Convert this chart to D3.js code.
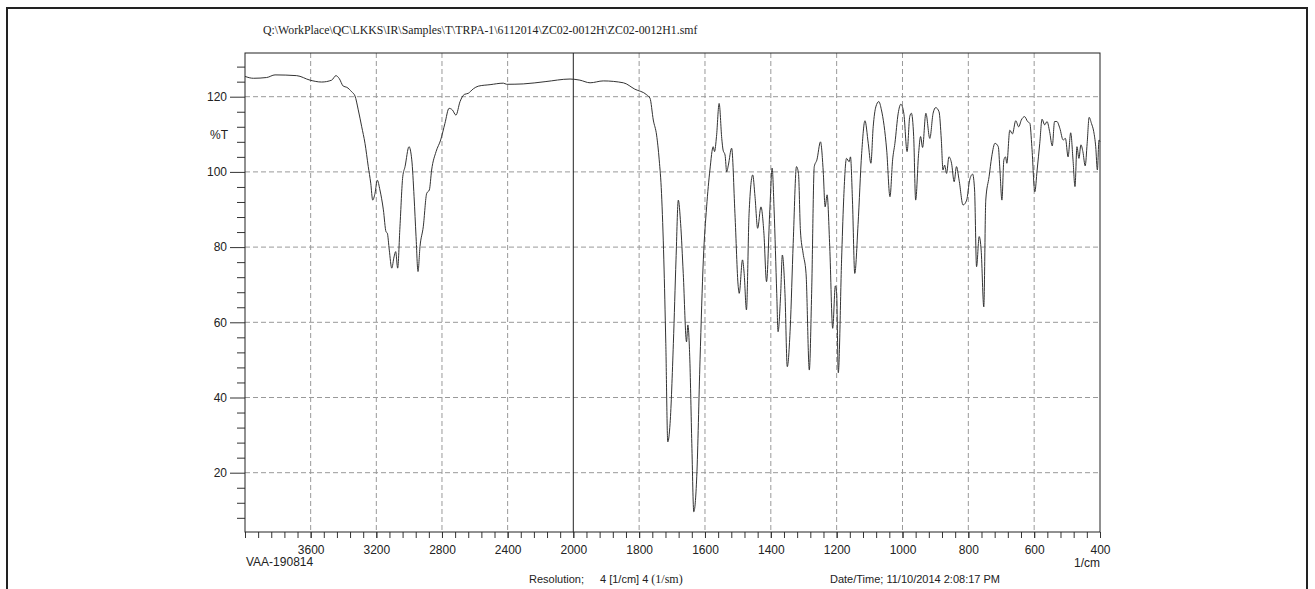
<!DOCTYPE html>
<html>
<head>
<meta charset="utf-8">
<script src="https://cdn.jsdelivr.net/npm/d3@7"></script>
<style>
  body { margin: 0; background: #fff; }
  svg { display: block; }
</style>
</head>
<body>
<div id="div_chart"></div>
<script>
// spectrum: wavenumber (1/cm) and %T
const wavenumber = [
  4000, 3949, 3868, 3817, 3685, 3604, 3533, 3472, 3446, 3427, 3401, 3380, 3350, 3330,
  3310, 3289, 3269, 3249, 3234, 3222, 3208, 3194, 3178, 3157, 3141, 3133, 3121, 3106,
  3092, 3082, 3070, 3056, 3039, 3025, 3001, 2984, 2970, 2958, 2946, 2934, 2914, 2893,
  2877, 2863, 2836, 2808, 2782, 2757, 2737, 2715, 2690, 2664, 2640, 2609, 2579, 2507,
  2426, 2406, 2305, 2172, 2020,
  1980, 1949, 1909, 1848, 1813, 1777, 1767, 1757, 1747, 1739, 1732, 1725, 1719, 1713,
  1706, 1696, 1688, 1681, 1674, 1666, 1656, 1652, 1646, 1640, 1634, 1625, 1615, 1605,
  1595, 1585, 1575, 1571, 1565, 1557, 1549, 1545, 1539, 1534, 1529, 1519, 1509, 1499,
  1496, 1486, 1481, 1474, 1466, 1455, 1448, 1440, 1430, 1421, 1413, 1403, 1396, 1390,
  1382, 1378, 1370, 1365, 1357, 1350, 1341, 1332, 1322, 1316, 1310, 1302, 1293, 1283,
  1276, 1268, 1260, 1249, 1241, 1235, 1229, 1221, 1212, 1204, 1200, 1195, 1185, 1179,
  1170, 1162, 1158, 1152, 1145, 1135, 1124, 1114, 1104, 1096, 1089, 1081, 1072, 1064,
  1048, 1038, 1030, 1023, 1013, 1005, 996, 986, 978, 973, 966, 960, 951, 945,
  939, 929, 917, 907, 899, 889, 882, 877, 872, 866, 859, 851, 843, 836,
  828, 816, 805, 796, 787, 781, 775, 767, 761, 753, 747, 737, 729, 719,
  709, 704, 698, 692, 687, 683, 674, 666, 656, 647, 639, 629, 620, 613,
  607, 598, 591, 583, 576, 568, 561, 553, 545, 538, 531, 522, 512, 505,
  497, 489, 482, 476, 470, 464, 458, 452, 445, 439, 433, 426, 419, 413,
  408, 403, 400
];
const transmittance = [
  125.4, 124.9, 125.1, 125.8, 125.6, 124.4, 123.9, 124.4, 125.6, 124.9, 122.8, 122.5, 121.3, 120.2,
  116.5, 112.0, 107.6, 101.4, 97.0, 92.5, 94.3, 97.8, 95.2, 89.9, 84.1, 83.7, 79.2, 74.4,
  77.4, 78.8, 74.4, 85.4, 98.7, 101.4, 106.7, 103.2, 93.4, 82.8, 73.5, 80.1, 85.4, 94.3,
  95.2, 100.5, 105.4, 108.5, 112.9, 116.9, 116.5, 115.1, 118.7, 120.6, 120.9, 122.1, 122.8, 123.2,
  123.6, 123.3, 123.4, 124.0, 124.7,
  124.4, 123.7, 124.2, 123.7, 122.0, 120.5, 119.6, 113.8, 109.8, 103.2, 94.3, 76.6, 54.4, 28.2,
  33.1, 54.4, 76.6, 92.5, 86.3, 73.0, 54.8, 59.3, 50.0, 27.8, 9.6, 18.9, 50.0, 76.6,
  90.7, 100.5, 106.7, 105.4, 109.4, 118.2, 108.9, 105.8, 104.5, 100.0, 101.8, 106.3, 89.0, 69.5,
  67.7, 76.6, 73.0, 63.3, 89.0, 99.2, 93.4, 85.0, 90.7, 83.7, 70.8, 89.9, 101.0, 89.9,
  67.7, 57.5, 67.7, 77.9, 67.7, 48.2, 58.5, 81.0, 101.4, 99.6, 84.3, 78.4, 73.0, 47.3,
  67.7, 101.4, 103.2, 108.0, 100.5, 90.7, 93.9, 80.1, 58.4, 69.7, 67.7, 46.6, 76.6, 92.0,
  103.6, 102.7, 104.0, 92.5, 73.0, 86.0, 104.9, 113.6, 107.6, 102.3, 112.0, 117.3, 118.7, 116.5,
  105.8, 93.4, 103.2, 107.6, 115.6, 118.0, 115.6, 105.4, 114.7, 115.6, 109.4, 92.5, 104.9, 109.4,
  106.5, 115.6, 108.9, 115.6, 117.1, 116.0, 108.5, 100.5, 101.8, 99.6, 104.0, 102.3, 97.4, 101.4,
  97.8, 91.2, 92.5, 97.8, 99.4, 95.2, 74.8, 82.8, 79.2, 64.1, 92.5, 98.7, 104.0, 107.6,
  106.7, 100.5, 92.5, 103.2, 104.0, 102.3, 111.1, 110.1, 113.6, 112.0, 113.8, 114.7, 113.4, 112.9,
  106.7, 94.7, 100.5, 107.6, 114.0, 112.5, 113.4, 110.7, 106.9, 113.4, 113.4, 111.6, 108.5, 108.9,
  104.0, 110.4, 103.2, 96.1, 106.7, 103.6, 107.2, 105.4, 101.6, 107.6, 114.5, 112.9, 110.7, 106.7,
  100.5, 108.5, 108.0
];

const xLabels = [3600, 3200, 2800, 2400, 2000, 1800, 1600, 1400, 1200, 1000, 800, 600, 400];
const yLabels = [20, 40, 60, 80, 100, 120];

const titleText = "Q:\\WorkPlace\\QC\\LKKS\\IR\\Samples\\T\\TRPA-1\\6112014\\ZC02-0012H\\ZC02-0012H1.smf";

const svg_width = 1315;
const svg_height = 589;

const plotLeft = 245, plotRight = 1100, plotTop = 53, plotBottom = 532;

// the 4000-2000 half is printed at half the scale of 2000-400
const x = d3.scaleLinear().domain([4000, 2000, 400]).range([plotLeft, 573.3, plotRight]);
const y = d3.scaleLinear().domain([20, 120]).range([472.7, 96.7]);

let svg = d3.select("#div_chart")
  .append("svg")
    .attr("width", svg_width)
    .attr("height", svg_height)
    .style("font-family", "'Liberation Sans', Arial, sans-serif");

// outer page frame
svg.append("rect")
    .attr("x", 7).attr("y", 8)
    .attr("width", 1300).attr("height", 600)
    .attr("fill", "none")
    .attr("stroke", "#222")
    .attr("stroke-width", 2);

svg.append("text")
    .attr("x", 263).attr("y", 34)
    .style("font-family", "'Liberation Serif', 'Times New Roman', serif")
    .style("font-size", "11.8px")
    .attr("fill", "#222")
    .text(titleText);

// grid
const grid = svg.append("g");
xLabels.filter(d => d !== 2000 && d !== 400).forEach(d => {
  grid.append("line")
      .attr("x1", x(d)).attr("x2", x(d))
      .attr("y1", plotTop).attr("y2", plotBottom)
      .attr("stroke", "#999").attr("stroke-dasharray", "5,3");
});
yLabels.forEach(d => {
  grid.append("line")
      .attr("x1", plotLeft).attr("x2", plotRight)
      .attr("y1", y(d)).attr("y2", y(d))
      .attr("stroke", "#999").attr("stroke-dasharray", "5,3");
});

// solid divider at 2000
svg.append("line")
    .attr("x1", x(2000)).attr("x2", x(2000))
    .attr("y1", plotTop).attr("y2", plotBottom)
    .attr("stroke", "#222").attr("stroke-width", 1);

// x axis ticks: every 80 above 2000, every 40 below
const xMinor = d3.range(4000, 2000, -80).concat(d3.range(2000, 399, -40));
let xAxisMinor = d3.axisBottom(x).tickValues(xMinor).tickSize(6).tickFormat("");
let xAxisMajor = d3.axisBottom(x).tickValues(xLabels).tickSize(6).tickPadding(7).tickFormat(d3.format("d"));

svg.append("g").attr("transform", `translate(0,${plotBottom})`).call(xAxisMinor)
  .call(g => g.select(".domain").remove());
svg.append("g").attr("transform", `translate(0,${plotBottom})`).call(xAxisMajor)
  .call(g => g.select(".domain").remove())
  .call(g => g.selectAll("text").style("font-size", "12px").attr("fill", "#222"));

// y axis ticks
const yMinor = d3.range(8, 129, 4).filter(d => d % 20 !== 0);
let yAxisMinor = d3.axisLeft(y).tickValues(yMinor).tickSize(8).tickFormat("");
let yAxisMajor = d3.axisLeft(y).tickValues(yLabels).tickSize(15).tickPadding(3);

svg.append("g").attr("transform", `translate(${plotLeft},0)`).call(yAxisMinor)
  .call(g => g.select(".domain").remove());
svg.append("g").attr("transform", `translate(${plotLeft},0)`).call(yAxisMajor)
  .call(g => g.select(".domain").remove())
  .call(g => g.selectAll("text").style("font-size", "12px").attr("fill", "#222"));

svg.selectAll(".tick line").attr("stroke", "#333");

// plot box
svg.append("rect")
    .attr("x", plotLeft).attr("y", plotTop)
    .attr("width", plotRight - plotLeft).attr("height", plotBottom - plotTop)
    .attr("fill", "none").attr("stroke", "#222").attr("stroke-width", 1);

// spectrum
const points = wavenumber.map((w, i) => [w, transmittance[i]]);
const line = d3.line()
    .x(d => x(d[0]))
    .y(d => y(d[1]))
    .curve(d3.curveMonotoneX);

svg.append("path")
    .datum(points)
    .attr("d", line)
    .attr("fill", "none")
    .attr("stroke", "#333")
    .attr("stroke-width", 1);

// labels
svg.append("text")
    .attr("x", 228).attr("y", 139)
    .attr("text-anchor", "end")
    .style("font-size", "12px").attr("fill", "#222")
    .text("%T");

svg.append("text")
    .attr("x", 246).attr("y", 566)
    .style("font-size", "12px").attr("fill", "#222")
    .text("VAA-190814");

svg.append("text")
    .attr("x", 1100).attr("y", 567)
    .attr("text-anchor", "end")
    .style("font-size", "12px").attr("fill", "#222")
    .text("1/cm");

let res = svg.append("text")
    .attr("x", 529).attr("y", 583)
    .style("font-size", "11px").attr("fill", "#222");
res.append("tspan").text("Resolution;");
res.append("tspan").attr("x", 600).text("4 [1/cm] 4 ");
res.append("tspan")
    .style("font-family", "'Liberation Serif', 'Times New Roman', serif")
    .style("font-size", "12px")
    .text("(1/sm)");

svg.append("text")
    .attr("x", 830).attr("y", 583)
    .style("font-size", "11px").attr("fill", "#222")
    .text("Date/Time; 11/10/2014 2:08:17 PM");
</script>
</body>
</html>
